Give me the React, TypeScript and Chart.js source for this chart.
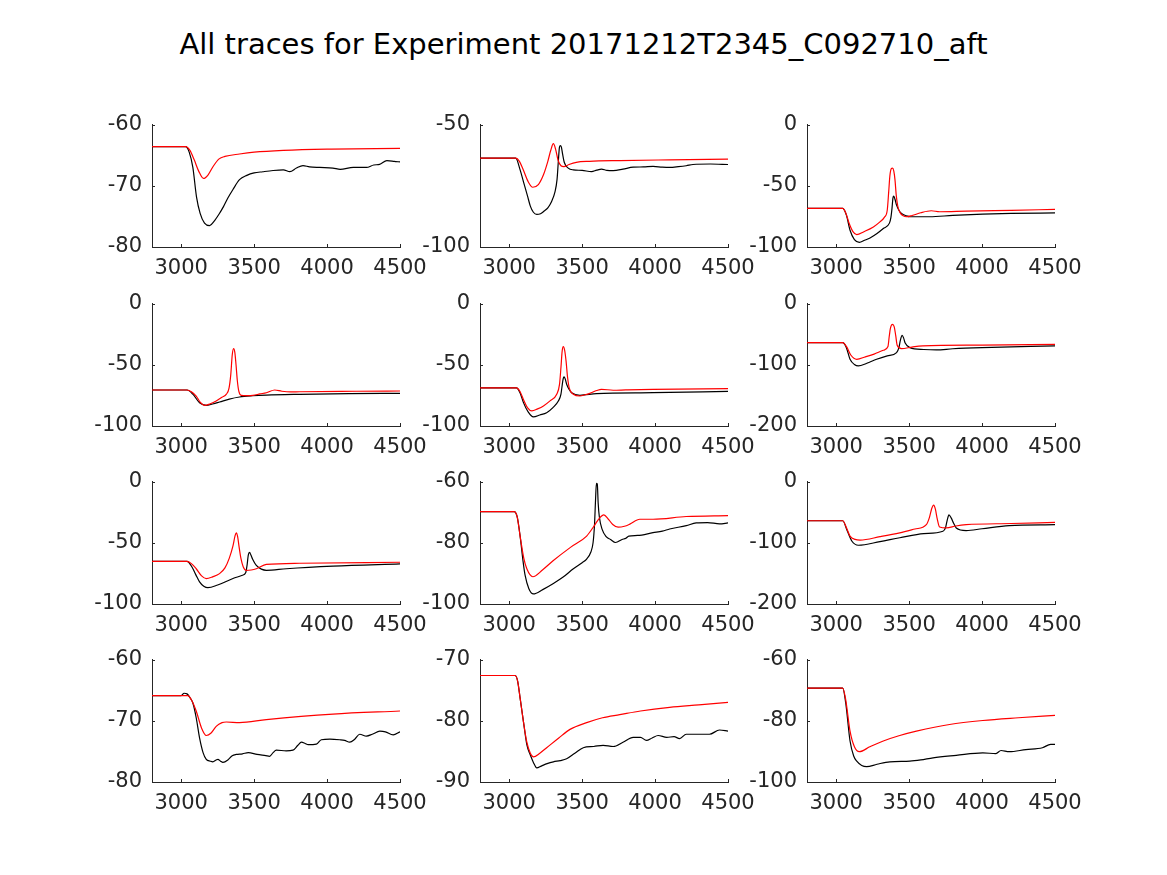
import React, { useEffect, useRef } from "react";
import { Chart, registerables } from "chart.js";

Chart.register(...registerables);

type Pt = [number, number];

const titleText = "All traces for Experiment 20171212T2345_C092710_aft";
const xTicks = [3000, 3500, 4000, 4500];
const xMin = 2800;
const xMax = 4500;

// y ranges [min, max, step] per subplot
const yRanges: [number, number, number][] = [
  [-80, -60, 10], [-100, -50, 50], [-100, 0, 50],
  [-100, 0, 50], [-100, 0, 50], [-200, 0, 100],
  [-100, 0, 50], [-100, -60, 20], [-200, 0, 100],
  [-80, -60, 10], [-90, -70, 10], [-100, -60, 20],
];

const red1: Pt[] = [[2800,-63.6],[3030,-63.6],[3060,-64.2],[3090,-65.8],[3120,-67.6],[3153,-68.8],[3185,-68.2],[3220,-66.8],[3260,-65.6],[3300,-65.2],[3400,-64.8],[3500,-64.5],[3700,-64.2],[4000,-64.0],[4500,-63.9]];
const black1: Pt[] = [[2800,-63.6],[3030,-63.6],[3055,-64.5],[3080,-67],[3105,-71.8],[3130,-74.5],[3160,-76.1],[3195,-76.5],[3225,-75.8],[3260,-74.6],[3290,-73.4],[3320,-72.0],[3355,-70.6],[3400,-69.0],[3450,-68.3],[3500,-67.9],[3560,-67.7],[3630,-67.5],[3700,-67.4],[3745,-67.7],[3790,-67.1],[3835,-66.7],[3880,-66.9],[3950,-67.0],[4040,-67.1],[4090,-67.3],[4180,-67.0],[4270,-67.0],[4320,-66.6],[4360,-66.5],[4410,-65.9],[4460,-66.0],[4500,-66.1]];

const red2: Pt[] = [[2800,-63.7],[3045,-63.7],[3070,-65],[3100,-69.0],[3130,-73.3],[3162,-75.6],[3200,-74.5],[3235,-70.5],[3265,-65],[3285,-60.5],[3303,-57.8],[3318,-60],[3335,-64.5],[3355,-66.8],[3375,-67.2],[3410,-66.3],[3460,-65.4],[3550,-65.0],[3760,-64.7],[4100,-64.4],[4500,-64.1]];
const black2: Pt[] = [[2800,-63.7],[3045,-63.7],[3075,-68.5],[3100,-73.8],[3125,-79],[3145,-83.3],[3166,-85.8],[3189,-86.7],[3215,-86.4],[3240,-85.3],[3265,-84],[3290,-81.5],[3314,-77.5],[3328,-72.5],[3337,-65],[3344,-59.5],[3350,-58.6],[3358,-59.2],[3366,-62],[3378,-65.5],[3405,-67.8],[3440,-68.5],[3500,-68.7],[3565,-69.2],[3600,-68.6],[3633,-68.2],[3670,-68.7],[3713,-68.8],[3780,-68.2],[3850,-67.4],[3920,-67.3],[3986,-67.1],[4050,-67.4],[4100,-67.5],[4160,-67.2],[4214,-66.8],[4260,-66.3],[4380,-66.1],[4500,-66.3]];

const red3: Pt[] = [[2800,-68.5],[3045,-68.5],[3065,-72],[3090,-81],[3115,-87.5],[3141,-89.9],[3190,-87.5],[3255,-83.6],[3300,-79.5],[3330,-75.8],[3350,-70],[3360,-55],[3368,-42],[3378,-36],[3386,-35.6],[3395,-38],[3403,-45],[3412,-58],[3422,-66.5],[3436,-71.5],[3460,-74.5],[3482,-75.3],[3520,-74.3],[3580,-72],[3652,-70.4],[3709,-71.2],[3890,-70.7],[4200,-70],[4500,-69.3]];
const black3: Pt[] = [[2800,-68.5],[3045,-68.5],[3070,-74],[3095,-86.3],[3125,-94],[3159,-96.2],[3195,-94.5],[3232,-92.6],[3280,-89],[3323,-84.9],[3365,-80.5],[3375,-76],[3383,-68],[3389,-60],[3395,-58.4],[3403,-61],[3414,-65.8],[3430,-70],[3448,-72.6],[3480,-74.5],[3505,-75.3],[3580,-75.3],[3641,-75.3],[3800,-74.2],[4005,-73.2],[4200,-72.6],[4500,-72.1]];

const red4: Pt[] = [[2800,-70.6],[3040,-70.6],[3070,-72],[3103,-75.5],[3130,-80.5],[3160,-83.1],[3200,-81.8],[3240,-79.6],[3280,-76.5],[3310,-74],[3328,-69],[3340,-58],[3350,-42],[3359,-36.8],[3368,-40],[3376,-50],[3385,-63],[3395,-71.5],[3412,-75],[3450,-75.2],[3492,-75],[3540,-73.8],[3584,-72.8],[3641,-70.6],[3690,-71.6],[3750,-72.2],[3812,-72],[4200,-71.6],[4500,-71.4]];
const black4: Pt[] = [[2800,-70.6],[3040,-70.6],[3080,-74],[3126,-81],[3172,-83.1],[3215,-82],[3263,-80.4],[3330,-78],[3400,-76.3],[3490,-75.3],[3584,-74.7],[3812,-74.1],[4150,-73.6],[4500,-73.3]];

const red5: Pt[] = [[2800,-68.9],[3050,-68.9],[3075,-72],[3100,-79],[3125,-85],[3155,-87.7],[3195,-86],[3235,-83.6],[3280,-79.5],[3326,-74.1],[3345,-66],[3355,-52],[3363,-39],[3371,-35.1],[3380,-38],[3390,-47],[3400,-60],[3412,-69],[3440,-74.1],[3485,-75.5],[3520,-74.5],[3553,-73.3],[3600,-71],[3633,-70],[3713,-70.8],[3800,-70.5],[3986,-70],[4500,-69.5]];
const black5: Pt[] = [[2800,-68.9],[3050,-68.9],[3075,-73],[3098,-80.9],[3130,-88.5],[3166,-92.6],[3210,-91],[3257,-89.1],[3300,-85],[3337,-79.6],[3355,-74],[3363,-67],[3370,-61.5],[3376,-59.9],[3384,-61.5],[3394,-65.9],[3410,-70],[3428,-72.8],[3485,-74.9],[3599,-73.6],[3986,-72.8],[4500,-71.7]];

const red6: Pt[] = [[2800,-63.8],[3045,-63.8],[3070,-70],[3100,-84],[3141,-91],[3200,-87],[3260,-82.5],[3323,-76.3],[3355,-70],[3363,-55],[3372,-40],[3386,-33.8],[3398,-38],[3408,-52],[3418,-68],[3448,-73.6],[3520,-71],[3595,-69.2],[4000,-67.8],[4500,-66.5]];
const black6: Pt[] = [[2800,-63.8],[3045,-63.8],[3070,-72],[3095,-91],[3125,-99.5],[3152,-101.9],[3210,-97.5],[3277,-91],[3350,-85.5],[3414,-80.1],[3430,-72],[3440,-60],[3452,-51.8],[3462,-56],[3472,-64],[3505,-71.9],[3600,-75],[3686,-75.7],[3800,-73.8],[4000,-71.9],[4500,-69.2]];

const red7: Pt[] = [[2800,-65.1],[3040,-65.1],[3070,-67],[3103,-71.2],[3140,-77],[3172,-79.2],[3215,-77.8],[3263,-75.2],[3300,-70.5],[3330,-62.5],[3355,-52.5],[3370,-44],[3378,-41.9],[3387,-45],[3396,-52.5],[3410,-63],[3425,-69.5],[3446,-72.5],[3480,-72.2],[3515,-71.2],[3584,-67.7],[3812,-66.7],[4500,-65.9]];
const black7: Pt[] = [[2800,-65.1],[3040,-65.1],[3075,-70],[3100,-76],[3126,-81.9],[3155,-85.5],[3183,-86.7],[3250,-84.5],[3355,-79.2],[3420,-76.5],[3442,-74.5],[3452,-68],[3460,-60],[3469,-57.9],[3478,-60],[3490,-63.5],[3515,-68.5],[3550,-71.5],[3584,-72.5],[3721,-71.2],[4041,-69.1],[4500,-67.2]];

const red8: Pt[] = [[2800,-69.8],[3034,-69.8],[3055,-71.5],[3075,-77.8],[3100,-85],[3121,-88.5],[3162,-91.1],[3230,-88.8],[3303,-85.8],[3420,-81.5],[3531,-77.8],[3575,-75],[3610,-72.5],[3649,-70.9],[3680,-72.3],[3710,-74],[3747,-74.9],[3790,-74.6],[3827,-73.9],[3895,-72.3],[3986,-72.3],[4214,-71.4],[4500,-71.1]];
const black8: Pt[] = [[2800,-69.8],[3034,-69.8],[3055,-71.5],[3075,-77.8],[3095,-86],[3109,-90.6],[3135,-95],[3166,-96.7],[3230,-95.3],[3303,-93.3],[3370,-91.2],[3440,-88.5],[3500,-86.5],[3531,-85.3],[3560,-83],[3575,-80],[3585,-74],[3592,-66],[3598,-60.6],[3604,-60.8],[3610,-67],[3618,-71.5],[3638,-75.7],[3665,-78],[3695,-78.9],[3729,-79.9],[3774,-78.9],[3800,-78.5],[3820,-77.8],[3880,-77.6],[3986,-76.7],[4050,-76.2],[4100,-75.5],[4214,-74.4],[4282,-73.5],[4360,-73.4],[4442,-73.8],[4500,-73.5]];

const red9: Pt[] = [[2800,-64],[3045,-64],[3070,-75],[3095,-89],[3130,-94.5],[3164,-95.5],[3300,-90],[3436,-83.7],[3540,-77.5],[3618,-70.4],[3640,-58],[3655,-44],[3668,-38.4],[3680,-45],[3692,-60],[3709,-74.1],[3755,-75.7],[3820,-72.5],[3891,-70.4],[4200,-68.5],[4500,-66.7]];
const black9: Pt[] = [[2800,-64],[3045,-64],[3075,-80],[3107,-97.1],[3152,-104],[3300,-98],[3436,-91.7],[3600,-85],[3732,-81.1],[3750,-75],[3762,-62],[3773,-54.4],[3789,-59.7],[3805,-68],[3823,-75.7],[3891,-80],[4000,-77],[4186,-72],[4500,-70.4]];

const red10: Pt[] = [[2800,-65.9],[3045,-65.9],[3075,-66.8],[3103,-68.4],[3140,-71.2],[3172,-72.4],[3205,-72],[3240,-70.9],[3280,-70.3],[3309,-70.2],[3400,-70.3],[3584,-69.8],[4041,-68.9],[4500,-68.4]];
const black10: Pt[] = [[2800,-65.9],[3000,-65.9],[3020,-65.5],[3040,-65.6],[3060,-66.2],[3080,-67.1],[3103,-69.5],[3126,-72.8],[3150,-75.2],[3172,-76.3],[3200,-76.6],[3217,-76.7],[3240,-76.4],[3252,-76.3],[3270,-76.6],[3286,-76.8],[3320,-76.4],[3350,-75.7],[3378,-75.5],[3420,-75.4],[3460,-75.2],[3520,-75.5],[3580,-75.7],[3606,-75.8],[3630,-75.2],[3652,-74.8],[3720,-74.9],[3766,-74.8],[3800,-74.0],[3824,-73.5],[3850,-73.7],[3870,-73.9],[3927,-73.8],[3961,-73.1],[4020,-73.0],[4087,-73.1],[4120,-73.2],[4156,-73.5],[4190,-73.0],[4224,-72.2],[4270,-72.5],[4310,-72.2],[4362,-71.7],[4400,-71.8],[4453,-72.3],[4500,-71.8]];

const red11: Pt[] = [[2800,-72.6],[3040,-72.6],[3058,-73.5],[3075,-76.3],[3100,-80.5],[3121,-83.5],[3145,-85.3],[3166,-85.9],[3210,-85.3],[3257,-84.4],[3340,-82.8],[3417,-81.4],[3531,-80.3],[3640,-79.5],[3758,-79],[3900,-78.4],[4100,-77.8],[4300,-77.4],[4500,-77.0]];
const black11: Pt[] = [[2800,-72.6],[3040,-72.6],[3058,-73.5],[3075,-76.3],[3100,-80.5],[3121,-83.9],[3145,-85.6],[3166,-86.8],[3189,-87.7],[3220,-87.4],[3260,-87.0],[3303,-86.7],[3350,-86.5],[3394,-86.2],[3450,-85.3],[3508,-84.4],[3580,-84.2],[3644,-84],[3713,-84.2],[3780,-83.5],[3850,-82.7],[3900,-82.7],[3941,-83.2],[3980,-82.8],[4021,-82.4],[4080,-82.7],[4130,-82.6],[4168,-82.9],[4214,-82.2],[4300,-82.2],[4373,-82.2],[4442,-81.5],[4500,-81.7]];

const red12: Pt[] = [[2800,-69.3],[3045,-69.3],[3065,-73],[3095,-83.4],[3125,-88.5],[3159,-90.1],[3230,-88.5],[3323,-86.6],[3430,-84.9],[3550,-83.4],[3777,-81.2],[4005,-79.9],[4250,-79],[4500,-78.2]];
const black12: Pt[] = [[2800,-69.3],[3045,-69.3],[3065,-74],[3095,-86.6],[3120,-91.5],[3141,-93.2],[3175,-94.6],[3209,-95],[3280,-94.2],[3368,-93.4],[3505,-93.2],[3580,-92.8],[3664,-92.1],[3823,-91.3],[4005,-90.5],[4095,-90.7],[4130,-89.7],[4186,-90.1],[4300,-89.4],[4414,-88.8],[4470,-87.7],[4500,-87.7]];

const redSeries = [red1, red2, red3, red4, red5, red6, red7, red8, red9, red10, red11, red12];
const blackSeries = [black1, black2, black3, black4, black5, black6, black7, black8, black9, black10, black11, black12];

// layout of axes boxes (px)
const colLefts = [152, 480, 807];
const rowTops = [125, 304, 482, 660];
const axW = 248;
const axH = 122;
const padL = 70;
const padT = 0;
const padR = 40;
const padB = 40;

const axisColor = "#262626";
const FONT = "'DejaVu Sans', sans-serif";
const TICK_SIZE = 21;

const inwardTicks = {
  id: "inwardTicks",
  afterDraw(chart: any) {
    const ctx = chart.ctx;
    const area = chart.chartArea;
    const len = 3;
    ctx.save();
    ctx.strokeStyle = axisColor;
    ctx.lineWidth = 1;
    const xs = chart.scales.x;
    const ys = chart.scales.y;
    ctx.beginPath();
    xs.ticks.forEach((t: any) => {
      const px = Math.round(xs.getPixelForValue(t.value)) + 0.5;
      ctx.moveTo(px, area.bottom);
      ctx.lineTo(px, area.bottom - len);
    });
    ys.ticks.forEach((t: any) => {
      const py = Math.round(ys.getPixelForValue(t.value)) + 0.5;
      ctx.moveTo(area.left, py);
      ctx.lineTo(area.left + len, py);
    });
    ctx.stroke();
    ctx.restore();
  },
};

function makeConfig(idx: number) {
  const [yMin, yMax, yStep] = yRanges[idx];
  return {
    type: "line",
    data: {
      datasets: [
        {
          data: redSeries[idx].map(([x, y]) => ({ x, y })),
          borderColor: "#ff0000",
          borderWidth: 1.2,
          pointRadius: 0,
          fill: false,
          cubicInterpolationMode: "monotone",
        },
        {
          data: blackSeries[idx].map(([x, y]) => ({ x, y })),
          borderColor: "#000000",
          borderWidth: 1.2,
          pointRadius: 0,
          fill: false,
          cubicInterpolationMode: "monotone",
        },
      ],
    },
    options: {
      responsive: false,
      maintainAspectRatio: false,
      animation: false,
      devicePixelRatio: 1,
      layout: { padding: { left: 0, top: padT, right: padR, bottom: 0 } },
      plugins: { legend: { display: false }, tooltip: { enabled: false }, title: { display: false } },
      events: [],
      scales: {
        x: {
          type: "linear",
          min: xMin,
          max: xMax,
          afterBuildTicks: (s: any) => {
            s.ticks = xTicks.map((v) => ({ value: v }));
          },
          afterFit: (s: any) => {
            s.height = padB;
          },
          grid: { display: false, drawTicks: false },
          border: { display: true, color: axisColor, width: 1 },
          ticks: {
            color: axisColor,
            font: { family: FONT, size: TICK_SIZE },
            padding: 9,
            maxRotation: 0,
            autoSkip: false,
            callback: (v: any) => String(v),
          },
        },
        y: {
          type: "linear",
          min: yMin,
          max: yMax,
          afterBuildTicks: (s: any) => {
            const t = [];
            for (let v = yMin; v <= yMax; v += yStep) t.push({ value: v });
            s.ticks = t;
          },
          afterFit: (s: any) => {
            s.width = padL;
          },
          grid: { display: false, drawTicks: false },
          border: { display: true, color: axisColor, width: 1 },
          ticks: {
            color: axisColor,
            font: { family: FONT, size: TICK_SIZE },
            padding: 10,
            autoSkip: false,
            callback: (v: any) => String(v),
          },
        },
      },
    },
    plugins: [inwardTicks],
  } as any;
}

function Subplot({ idx }: { idx: number }) {
  const ref = useRef<HTMLCanvasElement | null>(null);
  const col = idx % 3;
  const row = Math.floor(idx / 3);
  const w0 = axW + padL + padR;
  const h0 = axH + 30 + padB;
  useEffect(() => {
    const canvas = ref.current;
    if (!canvas) return;
    let W = w0;
    let H = h0;
    const setSize = () => {
      canvas.width = W;
      canvas.height = H;
      canvas.style.width = W + "px";
      canvas.style.height = H + "px";
    };
    setSize();
    let chart = new Chart(canvas, makeConfig(idx));
    let a = chart.chartArea;
    const dW = Math.round(axW - (a.right - a.left));
    const dH = Math.round(axH - (a.bottom - a.top));
    if (dW !== 0 || dH !== 0) {
      chart.destroy();
      W += dW;
      H += dH;
      setSize();
      chart = new Chart(canvas, makeConfig(idx));
      a = chart.chartArea;
    }
    canvas.style.left = colLefts[col] - a.left + "px";
    canvas.style.top = rowTops[row] - a.top + "px";
    return () => chart.destroy();
  }, [idx]);
  return (
    <canvas
      ref={ref}
      width={w0}
      height={h0}
      style={{
        position: "absolute",
        left: colLefts[col] - padL,
        top: rowTops[row] - 20,
        width: w0,
        height: h0,
      }}
    />
  );
}

export default function App() {
  return (
    <div
      style={{
        position: "fixed",
        left: 0,
        top: 0,
        width: 1167,
        height: 875,
        background: "#ffffff",
        overflow: "hidden",
      }}
    >
      <div
        style={{
          position: "absolute",
          left: 0,
          top: 26,
          width: 1167,
          textAlign: "center",
          fontFamily: FONT,
          fontSize: 29,
          lineHeight: "36px",
          color: "#000000",
          whiteSpace: "nowrap",
        }}
      >
        {titleText}
      </div>
      {Array.from({ length: 12 }, (_, i) => (
        <Subplot key={i} idx={i} />
      ))}
    </div>
  );
}
